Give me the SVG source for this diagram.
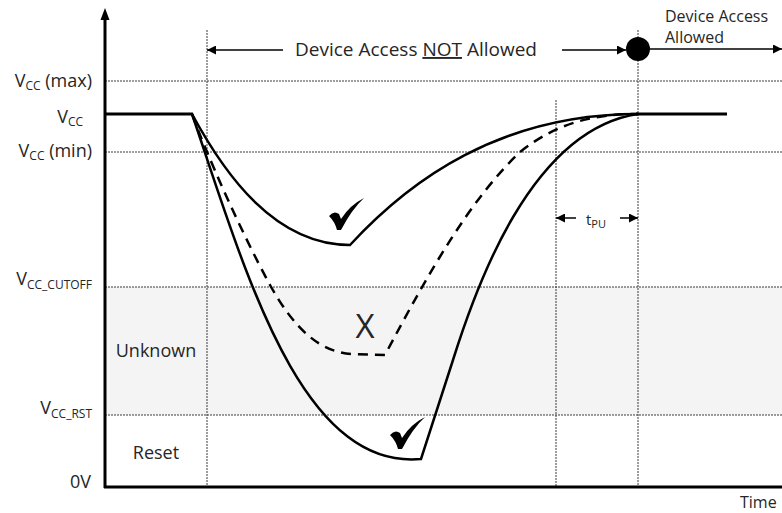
<svg xmlns="http://www.w3.org/2000/svg" width="782" height="513" viewBox="0 0 782 513">
  <style>
    .lbl { font-family: "Open Sans", "Liberation Sans", sans-serif; fill: #262626; font-size: 18px; }
    .sub { font-size: 12px; }
    .small { font-size: 16px; }
    .grid { stroke: #3a3a3a; stroke-width: 1; stroke-dasharray: 2 1; fill: none; }
    .axis { stroke: #000; stroke-width: 3; fill: none; }
    .curve { stroke: #000; stroke-width: 2.5; fill: none; stroke-linejoin: miter; }
    .dash { stroke-dasharray: 10 7; }
    .arr { stroke: #000; stroke-width: 1.5; fill: none; }
  </style>
  <defs>
    <marker id="head" viewBox="0 0 10 10" refX="10" refY="5" markerWidth="6" markerHeight="6" markerUnits="strokeWidth" orient="auto">
      <path d="M0,0 L10,5 L0,10 Z" fill="#000"/>
    </marker>
  </defs>
  <rect width="782" height="513" fill="#fff"/>

  <!-- undefined region band -->
  <rect id="unknown-band" x="105" y="287" width="677" height="128" fill="#f4f4f4"/>

  <!-- reference levels and time markers -->
  <g id="grid">
    <line class="grid" x1="105" y1="81" x2="782" y2="81"/>
    <line class="grid" x1="105" y1="152" x2="782" y2="152"/>
    <line class="grid" x1="105" y1="287" x2="782" y2="287"/>
    <line class="grid" x1="105" y1="415" x2="782" y2="415"/>
    <line class="grid" x1="207" y1="30" x2="207" y2="486"/>
    <line class="grid" x1="556" y1="100" x2="556" y2="486"/>
    <line class="grid" x1="638" y1="30" x2="638" y2="486"/>
  </g>

  <!-- axes -->
  <g id="axes">
    <line class="axis" x1="105" y1="488" x2="105" y2="18"/>
    <path d="M105,8 L100.5,20 L109.5,20 Z" fill="#000"/>
    <line class="axis" x1="104" y1="487" x2="782" y2="487"/>
  </g>

  <!-- supply waveforms -->
  <g id="waveforms">
    <line class="axis" x1="105" y1="114" x2="193" y2="114"/>
    <line class="axis" x1="636" y1="114" x2="727" y2="114"/>
    <!-- shallow dip -->
    <path class="curve" d="M192,114 C225,175 275,245 350,245 C410,180 500,114 638,114"/>
    <!-- dip into unknown region -->
    <path class="curve dash" d="M192,114 C205,150 240,230 270,285 C295,330 320,352 352,354 L385,355 C430,270 470,200 520,152 C560,120 600,114 638,114"/>
    <!-- dip below reset threshold -->
    <path class="curve" d="M192,114 C245,270 300,470 421,459 L453,360 C475,290 530,130 638,114"/>
  </g>

  <!-- outcome marks -->
  <g id="mark-ok-1">
    <path d="M329,216 Q334,210 339,214 L341,219 Q350,205 364,198 Q352,209 341,230 L337,230 Q335,222 329,216 Z" fill="#000"/>
  </g>
  <g id="mark-ok-2">
    <path d="M390,435 Q395,429 400,433 L402,438 Q411,424 425,417 Q413,428 402,449 L398,449 Q396,441 390,435 Z" fill="#000"/>
  </g>
  <g id="mark-fail">
    <text class="lbl" x="365" y="338" style="font-size:33px" text-anchor="middle">X</text>
  </g>

  <!-- access timeline connectors -->
  <g id="connectors">
    <line class="arr" x1="283" y1="50" x2="207" y2="50" marker-end="url(#head)"/>
    <line class="arr" x1="562" y1="50" x2="626" y2="50" marker-end="url(#head)"/>
    <line class="arr" x1="650" y1="49" x2="782" y2="49" marker-end="url(#head)"/>
    <line class="arr" x1="576" y1="218" x2="556" y2="218" marker-end="url(#head)"/>
    <line class="arr" x1="620" y1="218" x2="638" y2="218" marker-end="url(#head)"/>
  </g>
  <g id="access-point">
    <circle cx="638" cy="49" r="12" fill="#000"/>
  </g>

  <!-- annotations -->
  <g id="access-labels">
    <text class="lbl" x="295" y="56" style="font-size:19px">Device Access <tspan text-decoration="underline">NOT</tspan> Allowed</text>
    <text class="lbl small" x="665" y="22">Device Access</text>
    <text class="lbl small" x="665" y="43">Allowed</text>
  </g>
  <g id="tpu-label">
    <text class="lbl" x="586" y="225" style="font-size:15px">t<tspan style="font-size:11px" dy="3">PU</tspan></text>
  </g>

  <!-- level labels -->
  <g id="level-labels">
    <text class="lbl" x="92" y="87" text-anchor="end">V<tspan class="sub" dy="3">CC</tspan><tspan dy="-3"> (max)</tspan></text>
    <text class="lbl" x="83" y="123" text-anchor="end">V<tspan class="sub" dy="3">CC</tspan></text>
    <text class="lbl" x="92" y="157" text-anchor="end">V<tspan class="sub" dy="3">CC</tspan><tspan dy="-3"> (min)</tspan></text>
    <text class="lbl" x="92" y="285" text-anchor="end">V<tspan class="sub" dy="4">CC_CUTOFF</tspan></text>
    <text class="lbl" x="92" y="414" text-anchor="end">V<tspan class="sub" dy="4">CC_RST</tspan></text>
    <text class="lbl" x="91" y="488" text-anchor="end">0V</text>
  </g>
  <g id="region-labels">
    <text class="lbl" x="156" y="357" text-anchor="middle">Unknown</text>
    <text class="lbl" x="156" y="459" text-anchor="middle">Reset</text>
    <text class="lbl small" x="740" y="508">Time</text>
  </g>
</svg>
